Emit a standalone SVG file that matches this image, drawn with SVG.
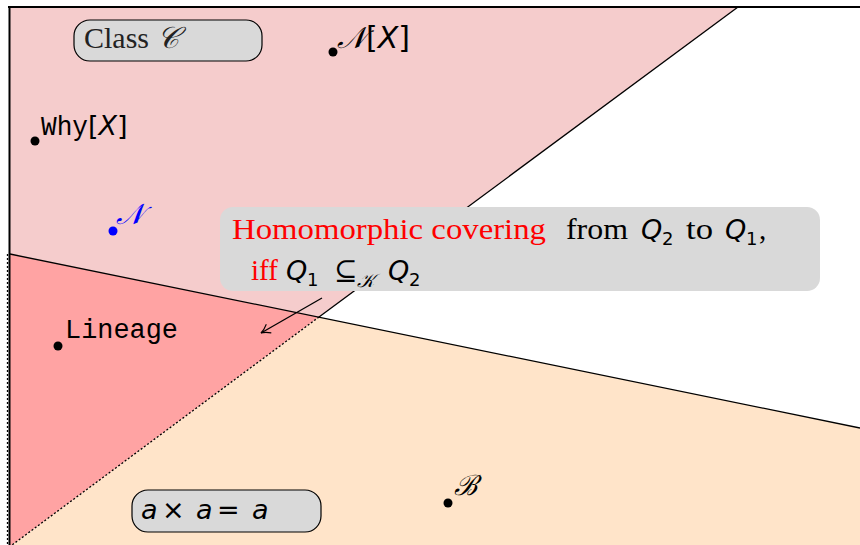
<svg xmlns="http://www.w3.org/2000/svg" width="860" height="545" viewBox="0 0 860 545">
<style>
.serif{font-family:"Liberation Serif","DejaVu Serif",serif;}
.sans{font-family:"DejaVu Sans","Liberation Sans",sans-serif;}
.mono{font-family:"Liberation Mono","DejaVu Sans Mono",monospace;}
.it{font-style:italic;}
.pill{fill:#d9d9d9;stroke:#000;stroke-width:1.2;}
.dot{fill:#000;}
.edge{fill:none;stroke:#000;stroke-width:1.3;}
.dotted{fill:none;stroke:#000;stroke-width:1.3;stroke-dasharray:2 2;}
</style>
<defs>
<marker id="arr" viewBox="0 0 12 12" refX="10" refY="6" markerWidth="12" markerHeight="12" markerUnits="userSpaceOnUse" orient="auto">
<path d="M1,1 Q6,5 10,6 Q6,7 1,11" fill="none" stroke="#000" stroke-width="1.1"/>
</marker>
</defs>
<rect width="860" height="545" fill="#fff"/>
<g id="regions">
<polygon points="10,7 738,7 319,317 10,254" fill="#f5cccc"/>
<polygon points="10,254 319,317 12,545 10,545" fill="#ffa3a3"/>
<polygon points="319,317 860,428 860,545 12,545" fill="#ffe4c9"/>
</g>
<g id="connectors">
<line x1="8" y1="7" x2="860" y2="7" stroke="#000" stroke-width="2"/>
<line x1="9.5" y1="6" x2="9.5" y2="545" stroke="#000" stroke-width="2"/>
<line x1="7.5" y1="254" x2="7.5" y2="545" class="dotted"/>
<polyline points="738,7 319,317" class="edge"/>
<polyline points="319,317 12,545" class="dotted"/>
<line x1="10" y1="254" x2="860" y2="428" class="edge"/>
</g>
<g id="label">
<rect x="220" y="207" width="600" height="84" rx="13" fill="#d9d9d9"/>
<text y="239" font-size="29"><tspan class="serif" x="232" fill="#ff0000" textLength="314" lengthAdjust="spacingAndGlyphs">Homomorphic covering</tspan><tspan class="serif" x="566" textLength="62" lengthAdjust="spacingAndGlyphs">from</tspan><tspan class="sans it" x="641" font-size="27">Q</tspan><tspan class="sans" x="662" y="245" font-size="18">2</tspan><tspan class="serif" x="686" y="239" textLength="27" lengthAdjust="spacingAndGlyphs">to</tspan><tspan class="sans it" x="725" font-size="27">Q</tspan><tspan class="sans" x="746" y="245" font-size="18">1</tspan><tspan class="serif" x="759" y="239">,</tspan></text>
<text y="280" font-size="29"><tspan class="serif" x="251" fill="#ff0000">iff</tspan><tspan class="sans it" x="286" font-size="27">Q</tspan><tspan class="sans" x="307" y="286" font-size="18">1</tspan><tspan class="serif" x="334" y="280" font-size="28">⊆</tspan><tspan class="serif it" x="357" y="287" font-size="19">𝒦</tspan><tspan class="sans it" x="388" y="280" font-size="27">Q</tspan><tspan class="sans" x="409" y="286" font-size="18">2</tspan></text>
</g>
<g id="arrow">
<line x1="322" y1="298" x2="261" y2="333" class="edge" marker-end="url(#arr)"/>
</g>
<g id="classC">
<rect x="74" y="20" width="188" height="41" rx="16" class="pill"/>
<text x="84" y="48" class="serif" font-size="30" fill="#222">Class <tspan class="it">𝒞</tspan></text>
</g>
<g id="NX">
<circle cx="333" cy="52" r="4.5" class="dot"/>
<text x="337" y="48" font-size="30"><tspan class="serif it">𝒩</tspan><tspan class="sans">[</tspan><tspan class="sans it">X</tspan><tspan class="sans">]</tspan></text>
</g>
<g id="WhyX">
<circle cx="35" cy="141" r="4.5" class="dot"/>
<text x="41" y="135" font-size="27"><tspan class="mono" textLength="47" lengthAdjust="spacingAndGlyphs">Why</tspan><tspan class="sans">[</tspan><tspan class="sans it">X</tspan><tspan class="sans">]</tspan></text>
</g>
<g id="N">
<circle cx="113" cy="231" r="4.5" fill="#0000ff"/>
<text x="116" y="224" font-size="29" class="serif it" fill="#0000ff">𝒩</text>
</g>
<g id="Lineage">
<circle cx="58" cy="346" r="4.5" class="dot"/>
<text x="65" y="338" font-size="27" class="mono" textLength="113" lengthAdjust="spacingAndGlyphs">Lineage</text>
</g>
<g id="B">
<circle cx="448" cy="503" r="4.5" class="dot"/>
<text x="454" y="495" font-size="28" class="serif it">ℬ</text>
</g>
<g id="aaa">
<rect x="132" y="490" width="189" height="42" rx="16" class="pill"/>
<text y="519" font-size="27" class="sans"><tspan class="it" x="141">a</tspan><tspan x="162">×</tspan><tspan class="it" x="196">a</tspan><tspan x="217">=</tspan><tspan class="it" x="252">a</tspan></text>
</g>
</svg>
